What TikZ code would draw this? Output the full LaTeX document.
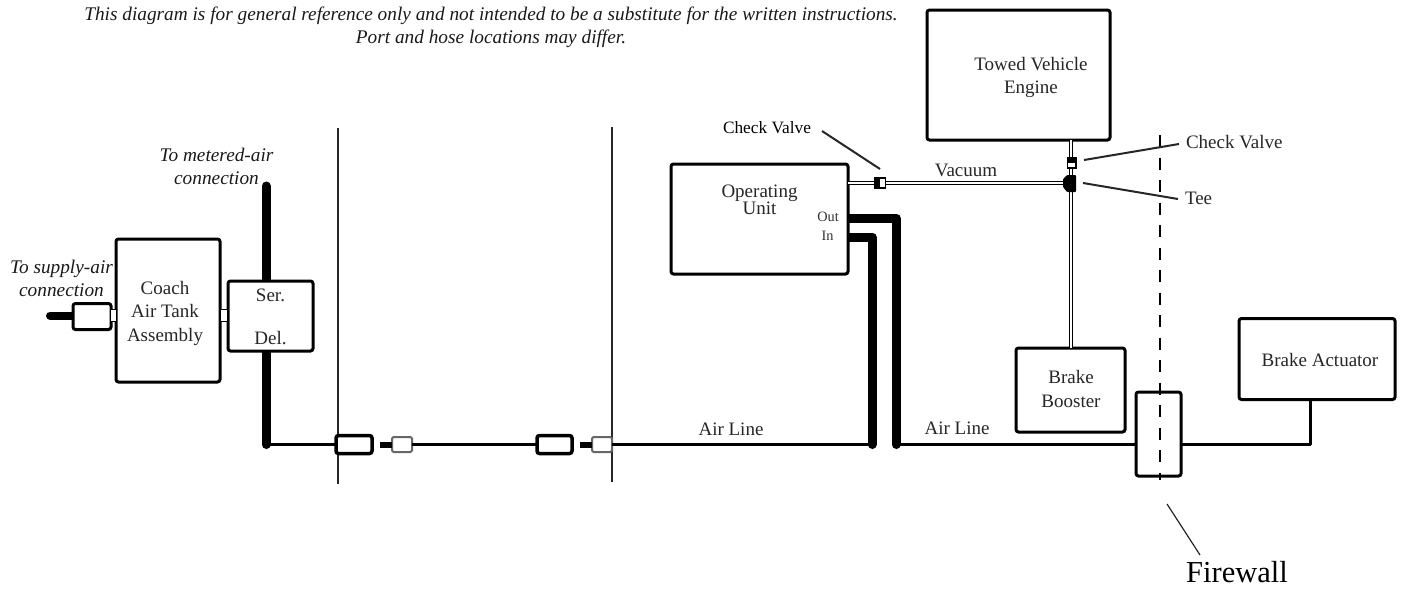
\documentclass[tikz,border=0pt]{standalone}
\usepackage{fontspec}
\setmainfont{Liberation Serif}
\pgfdeclarelayer{back}
\pgfsetlayers{back,main}
\tikzset{
  x=1pt,y=-1pt,
  every node/.style={inner sep=0pt,outer sep=0pt},
  blockbox/.style={draw=black,line width=3pt,rounded corners=2.5pt,fill=white},
  label/.style={font=\fontsize{19}{23.5}\selectfont,text=black!85,align=center},
  note/.style={font=\fontsize{19.3}{23}\itshape\selectfont,text=black!90,align=center},
  port/.style={font=\fontsize{14.3}{16}\selectfont,text=black!80},
  coupler/.style={draw=black,line width=3.5pt,rounded corners=2.5pt,fill=white},
  smallfit/.style={draw=black!60,line width=2pt,rounded corners=1.5pt,fill=white},
  airline/.style={draw=black,line width=3pt,line join=round},
  heavyline/.style={draw=black,line width=9pt,line cap=round,line join=round},
  stub/.style={draw=black,line width=6pt},
  portfit/.style={draw=black,line width=1.6pt,fill=white},
  vacline/.style={draw=black,line width=1.5pt,double=white,double distance=1.8pt},
  wall/.style={draw=black!85,line width=1.8pt},
  leader/.style={draw=black!85,line width=2pt},
}
\newcommand{\boxat}[6]{\node[#1,minimum width=#4pt,minimum height=#5pt] (#2) at (#3) {#6};}
\begin{document}
\begin{tikzpicture}
\useasboundingbox (0,0) rectangle (1405,590);
% coordinates
\coordinate (metTop) at (266,186);
\coordinate (delJoin) at (266,444.5);
\coordinate (wallA) at (338,128);
\coordinate (wallAb) at (338,484);
\coordinate (wallB) at (612,127);
\coordinate (wallBb) at (612,482);
\coordinate (inCorner) at (872,237);
\coordinate (inBot) at (872,444.5);
\coordinate (outCorner) at (896,218);
\coordinate (outBot) at (896,444.5);
\coordinate (inEnd) at (845,237);
\coordinate (outEnd) at (845,218);
\coordinate (supplyEnd) at (50,315.5);
\coordinate (actJoin) at (1310,444.5);
\coordinate (fwTop) at (1159.5,135);
\coordinate (fwBot) at (1159.5,480);
\coordinate (vacTee) at (1071,183);

% walls
\draw[wall] (wallA) -- (wallAb);
\draw[wall] (wallB) -- (wallBb);

% boxes
\boxat{blockbox}{tank}{168,310.5}{104}{143}{}
\boxat{blockbox}{valve}{270.5,316}{85}{70}{}
\boxat{blockbox}{opunit}{759.5,219}{177}{110}{}
\boxat{blockbox}{engine}{1018.5,75}{183}{130}{}
\boxat{blockbox}{booster}{1070.5,390}{109}{84}{}
\boxat{blockbox}{actuator}{1317,359}{156}{81}{}
\boxat{blockbox}{supply}{92,316.5}{38}{26}{}

% box texts
\node[label] (coachT) at (165,313) {Coach\\Air Tank\\Assembly};
\node[label,font=\fontsize{19}{43}\selectfont] (serT) at (270.5,316.5) {Ser.\\Del.};
\node[label,font=\fontsize{19}{17.5}\selectfont] (optext) at (759.5,200) {Operating\\Unit};
\node[label] (towT) at (1031,77.5) {Towed Vehicle\\Engine};
\node[label] (brkT) at (1071,389) {Brake\\Booster};
\node[label] (actT) at (1320,360) {Brake Actuator};
\node[port] (outlab) at (828,217) {Out};
\node[port] (inlab) at (827.5,236) {In};

% air lines under the boxes
\begin{pgfonlayer}{back}
\draw[heavyline] (metTop) -- (valve.north -| metTop);
\draw[heavyline] (valve.south -| delJoin) -- (delJoin);
\draw[heavyline] (inEnd) -- (inCorner) -- (inBot);
\draw[heavyline] (outEnd) -- (outCorner) -- (outBot);
\draw[heavyline,line width=8pt] (supplyEnd) -- (supply.center |- supplyEnd);
\end{pgfonlayer}

% couplers on the long line
\coordinate (c1) at (354,444.5);
\coordinate (c2) at (402,444.5);
\coordinate (c3) at (554.5,444.5);
\coordinate (c4) at (602,444.5);
\boxat{coupler}{cpA}{c1}{36}{18}{}
\boxat{smallfit}{fitA}{c2}{20}{15}{}
\boxat{coupler}{cpB}{c3}{35}{18}{}
\boxat{smallfit}{fitB}{c4}{20}{15}{}
\draw[stub] (380,444.5) -- (fitA.west);
\draw[stub] (580,444.5) -- (fitB.west);
\draw[airline] (delJoin) -- (cpA.west);
\draw[airline] (fitA.east) -- (cpB.west);
\draw[airline] (fitB.east) -- (inBot);

% firewall connector
\boxat{blockbox}{fwbox}{1158.5,434}{45}{84}{}
\draw[airline] (outBot) -- (fwbox.west |- outBot);
\draw[airline] (fwbox.east |- actJoin) -- (actJoin) -- (actuator.south -| actJoin);
\draw[draw=black,line width=2pt,dash pattern=on 12pt off 10.5pt] (fwTop) -- (fwBot);

% small port fittings
\node[portfit,minimum width=6pt,minimum height=12pt] (pf1) at (113.5,315.5) {};
\node[portfit,minimum width=8pt,minimum height=12pt] (pf2) at (224,315.5) {};

% vacuum lines
\draw[vacline] (opunit.east |- vacTee) -- (vacTee);
\draw[vacline] (engine.south -| vacTee) -- (booster.north -| vacTee);
\node[draw=black,fill=white,line width=1.5pt,minimum width=11pt,minimum height=10pt] (cv1) at (880,183) {};
\fill[black] (cv1.south west) rectangle (cv1.north);
\node[draw=black,fill=white,line width=1.5pt,minimum width=8.5pt,minimum height=10pt] (cv2) at (1071.5,163) {};
\fill[black] (cv2.north west) rectangle (cv2.east);
\fill[black,rounded corners=1pt] (1063,179) -- (1067,175) -- (1076,175) -- (1076,192) -- (1067,192) -- (1063,187) -- cycle;

% leaders
\node[label,font=\fontsize{17.3}{20}\selectfont,text=black] (cvL) at (767,128) {Check Valve};
\node[label,anchor=west] (cvR) at (1186,142) {Check Valve};
\node[label,anchor=west] (teeL) at (1185,198) {Tee};
\coordinate (a1) at (822,131);
\coordinate (a2) at (880,169);
\coordinate (b1) at (1084,160);
\coordinate (b2) at (1179,144);
\coordinate (d1) at (1083,183);
\coordinate (d2) at (1178,199);
\coordinate (e1) at (1167,504);
\coordinate (e2) at (1200,555);
\draw[leader] (a1) -- (a2);
\draw[leader] (b1) -- (b2);
\draw[leader] (d1) -- (d2);
\draw[leader,line width=1.2pt] (e1) -- (e2);

% labels
\node[label] (vacL) at (966,170) {Vacuum};
\node[label] (air1) at (731,429) {Air Line};
\node[label] (air2) at (957,428) {Air Line};
\node[label,font=\fontsize{30.5}{34}\selectfont,text=black] (fw) at (1237,572) {Firewall};
\node[note] (topnote) at (491,27) {This diagram is for general reference only and not intended to be a substitute for the written instructions.\\Port and hose locations may differ.};
\node[note] (met) at (216.5,166) {To metered-air\\connection};
\node[note] (sup) at (61.5,278) {To supply-air\\connection};
\end{tikzpicture}
\end{document}
